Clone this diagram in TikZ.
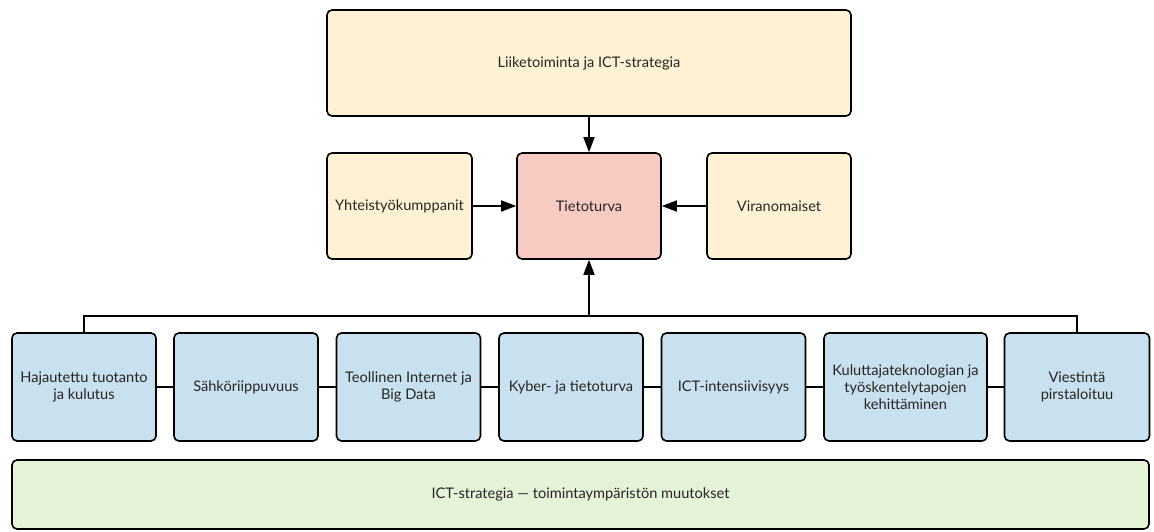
\documentclass[tikz,border=0pt]{standalone}
\usepackage{fontspec}
\setmainfont{Lato}
\usetikzlibrary{arrows.meta}
\definecolor{cyellow}{HTML}{FFF2D4}
\definecolor{cred}{HTML}{F8CBC2}
\definecolor{cblue}{HTML}{C9E0EF}
\definecolor{cgreen}{HTML}{E5F3D8}
\tikzset{
  box/.style={draw=black, line width=1.6pt, rounded corners=5pt, align=center,
    inner sep=2pt, font=\fontsize{14.6}{17}\selectfont, text=black!85},
  ybox/.style={box, fill=cyellow},
  rbox/.style={box, fill=cred},
  bbox/.style={box, fill=cblue, minimum height=108pt},
  gbox/.style={box, fill=cgreen},
  conn/.style={line width=1.6pt},
  arr/.style={conn, -{Triangle[length=15pt,width=11pt]}},
}
\begin{document}
\begin{tikzpicture}[x=1pt,y=-1pt]
\useasboundingbox (0,0) rectangle (1154,531);
\node[ybox, minimum width=524pt, minimum height=106pt] (top) at (589,63) {Liiketoiminta ja ICT-strategia};
\node[ybox, minimum width=145pt, minimum height=106pt] (yht) at (399.5,206) {Yhteistyökumppanit};
\node[rbox, minimum width=144pt, minimum height=106pt] (tie) at (589,206) {Tietoturva};
\node[ybox, minimum width=144pt, minimum height=106pt] (vir) at (779,206) {Viranomaiset};

\node[bbox, minimum width=144pt] (b1) at (84,387) {Hajautettu tuotanto\\ja kulutus};
\node[bbox, minimum width=144pt] (b2) at (246,387) {Sähköriippuvuus};
\node[bbox, minimum width=144pt] (b3) at (408.5,387) {Teollinen Internet ja\\Big Data};
\node[bbox, minimum width=144pt] (b4) at (571,387) {Kyber- ja tietoturva};
\node[bbox, minimum width=144pt] (b5) at (733.5,387) {ICT-intensiivisyys};
\node[bbox, minimum width=163pt] (b6) at (905.5,387) {Kuluttajateknologian ja\\työskentelytapojen\\kehittäminen};
\node[bbox, minimum width=145pt] (b7) at (1077,387) {Viestintä\\pirstaloituu};

\node[gbox, minimum width=1137pt, minimum height=69pt] (g) at (580.5,494.5) {ICT-strategia — toimintaympäristön muutokset};

\coordinate (bus) at (589,316);

\draw[arr] (top) -- (tie);
\draw[arr] (yht) -- (tie);
\draw[arr] (vir) -- (tie);
\draw[arr] (bus) -- (tie.south);
\draw[conn] (b1.north) -- (b1.north |- bus) -- (b7.north |- bus) -- (b7.north);
\draw[conn] (b1) -- (b2);
\draw[conn] (b2) -- (b3);
\draw[conn] (b3) -- (b4);
\draw[conn] (b4) -- (b5);
\draw[conn] (b5) -- (b6);
\draw[conn] (b6) -- (b7);
\end{tikzpicture}
\end{document}
